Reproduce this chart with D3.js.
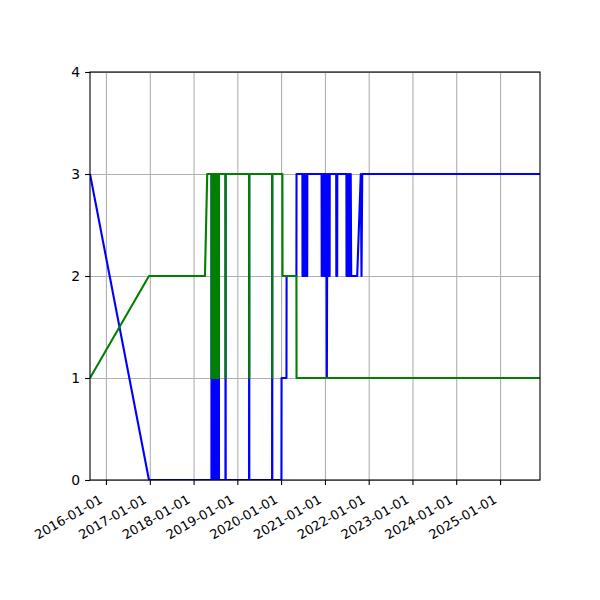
<!DOCTYPE html>
<html>
<head>
<meta charset="utf-8">
<script src="https://cdn.jsdelivr.net/npm/d3@7"></script>
<style>
  body { margin: 0; background: #fff; }
  svg { display: block; }
</style>
</head>
<body>
<svg width="600" height="600"></svg>
<script>
/* Tijdstippen van de metingen */
var dates = [
  "2015-08-21", "2016-12-25", "2018-04-06", "2018-04-25", "2018-05-30",
  "2018-05-31", "2018-06-04", "2018-06-08", "2018-06-12", "2018-06-16",
  "2018-06-20", "2018-06-24", "2018-06-28", "2018-07-02", "2018-07-06",
  "2018-07-10", "2018-07-14", "2018-07-18", "2018-07-22", "2018-07-26",
  "2018-07-28", "2018-07-31", "2018-08-01", "2018-09-24", "2018-09-25",
  "2018-09-26", "2019-04-09", "2019-04-10", "2019-04-11", "2019-10-18",
  "2019-10-19", "2019-10-20", "2020-01-04", "2020-01-05", "2020-01-12",
  "2020-01-13", "2020-02-15", "2020-02-16", "2020-05-08", "2020-05-09",
  "2020-06-27", "2020-06-28", "2020-07-02", "2020-07-06", "2020-07-10",
  "2020-07-14", "2020-07-18", "2020-07-22", "2020-07-26", "2020-07-30",
  "2020-08-03", "2020-08-06", "2020-08-07", "2020-12-04", "2020-12-05",
  "2020-12-12", "2020-12-19", "2020-12-20", "2020-12-31", "2021-01-01",
  "2021-01-05", "2021-01-09", "2021-01-13", "2021-01-17", "2021-01-21",
  "2021-01-25", "2021-01-29", "2021-02-02", "2021-02-06", "2021-02-09",
  "2021-02-10", "2021-04-05", "2021-04-06", "2021-04-13", "2021-04-14",
  "2021-06-29", "2021-06-30", "2021-07-05", "2021-07-10", "2021-07-15",
  "2021-07-20", "2021-07-25", "2021-07-30", "2021-08-04", "2021-08-08",
  "2021-09-27", "2021-10-27", "2021-11-02", "2021-11-08", "2025-11-30"
];

/* Blauwe reeks */
var blueValues = [
  3, 0, 0, 0, 0,
  3, 0, 3, 0, 3,
  0, 3, 0, 3, 0,
  3, 0, 3, 0, 3,
  0, 3, 0, 0, 3,
  0, 0, 3, 0, 0,
  3, 0, 0, 1, 1,
  1, 1, 2, 2, 3,
  3, 2, 3, 2, 3,
  2, 3, 2, 3, 2,
  3, 2, 3, 3, 2,
  3, 2, 3, 3, 2,
  3, 2, 3, 1, 3,
  2, 3, 2, 3, 2,
  3, 3, 2, 2, 3,
  3, 2, 3, 2, 3,
  2, 3, 2, 3, 2,
  2, 3, 2, 3, 3
];

/* Groene reeks */
var greenValues = [
  1, 2, 2, 3, 3,
  1, 3, 1, 3, 1,
  3, 1, 3, 1, 3,
  1, 3, 1, 3, 1,
  3, 1, 3, 3, 1,
  3, 3, 1, 3, 3,
  1, 3, 3, 3, 3,
  2, 2, 2, 2, 1,
  1, 1, 1, 1, 1,
  1, 1, 1, 1, 1,
  1, 1, 1, 1, 1,
  1, 1, 1, 1, 1,
  1, 1, 1, 1, 1,
  1, 1, 1, 1, 1,
  1, 1, 1, 1, 1,
  1, 1, 1, 1, 1,
  1, 1, 1, 1, 1,
  1, 1, 1, 1, 1
];

/* Labels op de assen */
var xTickLabels = ["2016-01-01", "2017-01-01", "2018-01-01", "2019-01-01", "2020-01-01",
                   "2021-01-01", "2022-01-01", "2023-01-01", "2024-01-01", "2025-01-01"];
var yTickLabels = [0, 1, 2, 3, 4];

var svg = d3.select("svg");
var margin = {top: 72, right: 60, bottom: 120, left: 90};
var width = +svg.attr("width") - margin.left - margin.right;
var height = +svg.attr("height") - margin.top - margin.bottom;
var group = svg.append("g").attr("transform", "translate(" + margin.left + "," + margin.top + ")");

var parseDate = d3.timeParse("%Y-%m-%d");
var fontSize = 13.9;
var tick = 4.9;

var blue = dates.map(function(d, i) { return {date: parseDate(d), value: blueValues[i]}; });
var green = dates.map(function(d, i) { return {date: parseDate(d), value: greenValues[i]}; });

/* De x-as loopt van de eerste tot de laatste meting */
var x = d3.scaleTime()
    .domain(d3.extent(blue, function(d) { return d.date; }))
    .range([0, width]);

/* De y-as */
var y = d3.scaleLinear()
    .domain([0, 4])
    .range([height, 0]);

var xTicks = xTickLabels.map(parseDate);

/* Rasterlijnen */
group.append("g")
    .attr("transform", "translate(0," + height + ")")
    .call(d3.axisBottom(x).tickValues(xTicks).tickSize(-height).tickFormat(""))
    .call(function(g) { g.select(".domain").remove(); })
    .selectAll("line")
      .attr("stroke", "#b0b0b0")
      .attr("stroke-width", 1.1);

group.append("g")
    .call(d3.axisLeft(y).tickValues(yTickLabels).tickSize(-width).tickFormat(""))
    .call(function(g) { g.select(".domain").remove(); })
    .selectAll("line")
      .attr("stroke", "#b0b0b0")
      .attr("stroke-width", 1.1);

/* Lijnen worden binnen de assen afgeknipt */
svg.append("defs").append("clipPath")
    .attr("id", "clip")
  .append("rect")
    .attr("width", width)
    .attr("height", height);

var line = d3.line()
    .x(function(d) { return x(d.date); })
    .y(function(d) { return y(d.value); });

var plot = group.append("g").attr("clip-path", "url(#clip)");

plot.append("path")
    .datum(blue)
    .attr("fill", "none")
    .attr("stroke", "#0000ff")
    .attr("stroke-width", 2.1)
    .attr("stroke-linejoin", "round")
    .attr("d", line);

plot.append("path")
    .datum(green)
    .attr("fill", "none")
    .attr("stroke", "#008000")
    .attr("stroke-width", 2.1)
    .attr("stroke-linejoin", "round")
    .attr("d", line);

/* De x-as met schuine labels (d3.axis zet zelf een font, dus daarna overschrijven) */
var xAxis = group.append("g")
    .attr("transform", "translate(0," + height + ")")
    .call(d3.axisBottom(x).tickValues(xTicks).tickSize(tick).tickFormat(d3.timeFormat("%Y-%m-%d")))
    .attr("font-family", "DejaVu Sans")
    .attr("font-size", 13);

xAxis.select(".domain").remove();
xAxis.selectAll("line").attr("stroke", "#000").attr("stroke-width", 1.1);
xAxis.selectAll("text")
    .attr("fill", "#000")
    .attr("y", 0)
    .attr("dy", 0)
    .attr("text-anchor", "end")
    .attr("transform", "translate(-3,22) rotate(-30)");

/* De y-as */
var yAxis = group.append("g")
    .call(d3.axisLeft(y).tickValues(yTickLabels).tickSize(tick).tickPadding(tick).tickFormat(d3.format("d")))
    .attr("font-family", "DejaVu Sans")
    .attr("font-size", fontSize);

yAxis.select(".domain").remove();
yAxis.selectAll("line").attr("stroke", "#000").attr("stroke-width", 1.1);
yAxis.selectAll("text").attr("fill", "#000");

/* Kader rond het plotgebied */
group.append("rect")
    .attr("width", width)
    .attr("height", height)
    .attr("fill", "none")
    .attr("stroke", "#000")
    .attr("stroke-width", 1.1);
</script>
</body>
</html>
